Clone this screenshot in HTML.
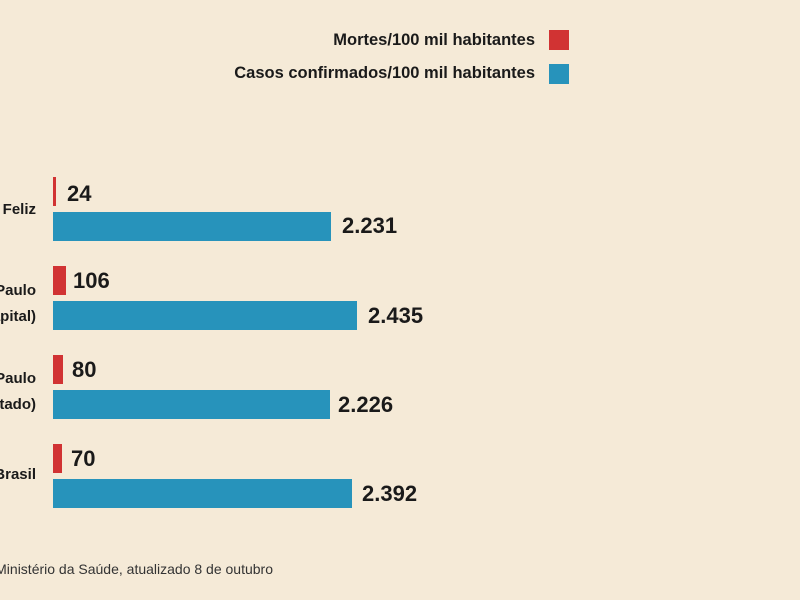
<!DOCTYPE html>
<html><head><meta charset="utf-8"><style>
body{margin:0;width:800px;height:600px;background:#f5ead7;position:relative;overflow:hidden;font-family:"Liberation Sans",sans-serif;color:#1a1a1a}
.a{position:absolute}
.r{background:#d13333}
.b{background:#2793bb}
.clip{position:absolute;left:0;top:0;width:36px;height:600px;overflow:hidden}
.lab{position:absolute;right:0;text-align:right;font-weight:bold;font-size:15px;white-space:nowrap;line-height:26px}
.v{position:absolute;font-weight:bold;font-size:22px;line-height:24px}
.lg{position:absolute;right:265px;font-weight:bold;font-size:16.5px;white-space:nowrap}
.foot{position:absolute;left:0;top:561px;width:273px;height:20px;overflow:hidden}
</style></head><body>
<div class="lg" style="top:31px">Mortes/100 mil habitantes</div>
<div class="a r" style="left:549px;top:30px;width:20px;height:20px"></div>
<div class="lg" style="top:64px">Casos confirmados/100 mil habitantes</div>
<div class="a b" style="left:549px;top:64px;width:20px;height:20px"></div>

<div class="clip">
<div class="lab" style="top:197px">Pouso Feliz</div>
<div class="lab" style="top:278px">São Paulo<br>(capital)</div>
<div class="lab" style="top:366px">São Paulo<br>(estado)</div>
<div class="lab" style="top:462px">Brasil</div>
</div>

<div class="a r" style="left:53px;top:177px;width:3px;height:29px"></div>
<div class="v" style="left:67px;top:182px">24</div>
<div class="a b" style="left:53px;top:212px;width:278px;height:29px"></div>
<div class="v" style="left:342px;top:214px">2.231</div>

<div class="a r" style="left:53px;top:266px;width:13px;height:29px"></div>
<div class="v" style="left:73px;top:269px">106</div>
<div class="a b" style="left:53px;top:301px;width:304px;height:29px"></div>
<div class="v" style="left:368px;top:304px">2.435</div>

<div class="a r" style="left:53px;top:355px;width:10px;height:29px"></div>
<div class="v" style="left:72px;top:358px">80</div>
<div class="a b" style="left:53px;top:390px;width:277px;height:29px"></div>
<div class="v" style="left:338px;top:393px">2.226</div>

<div class="a r" style="left:53px;top:444px;width:9px;height:29px"></div>
<div class="v" style="left:71px;top:447px">70</div>
<div class="a b" style="left:53px;top:479px;width:299px;height:29px"></div>
<div class="v" style="left:362px;top:482px">2.392</div>

<div class="foot"><div style="position:absolute;right:0;top:0;font-size:14px;white-space:nowrap;color:#333">Fonte: Ministério da Saúde, atualizado 8 de outubro</div></div>
</body></html>
